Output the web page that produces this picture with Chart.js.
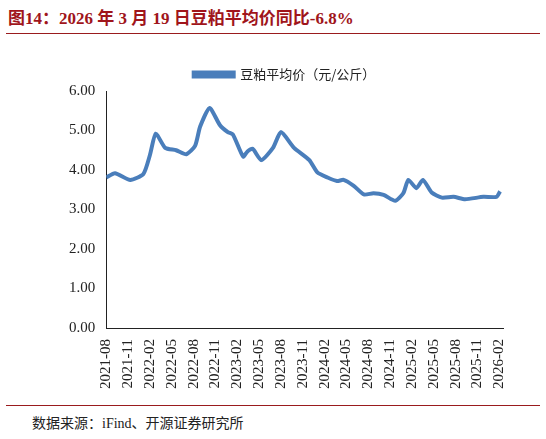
<!DOCTYPE html>
<html><head><meta charset="utf-8">
<script src="https://cdn.jsdelivr.net/npm/chart.js@4/dist/chart.umd.min.js"></script>
<style>
body{margin:0;width:546px;height:439px;background:#fff;position:relative;overflow:hidden;font-family:"Liberation Serif","Noto Sans CJK SC",serif;}
#title{position:absolute;left:8px;top:4px;font-size:17px;font-weight:bold;color:#a0151b;font-family:"Liberation Serif","Noto Sans CJK SC",serif;}
#tl{position:absolute;left:6px;right:6px;top:33px;border-top:1.5px solid #9a1b1e;}
#fl{position:absolute;left:6px;right:6px;top:405px;border-top:1px solid #9a1b1e;}
#src{position:absolute;left:32px;top:412px;font-size:14px;color:#222;}
#wrap{position:absolute;left:0;top:52px;width:546px;height:350px;}
</style></head><body>
<div id="title">图14：2026 年 3 月 19 日豆粕平均价同比-6.8%</div>
<div id="tl"></div>
<div id="wrap"><canvas id="c"></canvas></div>
<div id="fl"></div>
<div id="src">数据来源：iFind、开源证券研究所</div>
<script>
// months since 2021-08
const meses = [0,1.2,3.3,5.1,6.0,6.8,8.1,9.6,11,12.2,12.9,14.2,15.6,16.7,17.4,18.8,19.4,20.1,21.3,22.9,24.0,25.8,27.9,29.0,30.4,31.7,32.6,34.0,35.4,36.7,38.1,39.7,40.8,41.5,42.6,43.5,44.7,46.1,47.7,49.3,51.8,53.6,54.1];
const precios = [3.81,3.92,3.75,3.90,4.38,4.92,4.56,4.50,4.40,4.61,5.10,5.57,5.14,4.96,4.90,4.34,4.47,4.54,4.25,4.56,4.96,4.56,4.25,3.94,3.81,3.72,3.75,3.60,3.38,3.41,3.37,3.22,3.41,3.75,3.54,3.75,3.43,3.30,3.32,3.26,3.32,3.32,3.46];
const etiquetas = ["2021-08","2021-11","2022-02","2022-05","2022-08","2022-11","2023-02","2023-05","2023-08","2023-11","2024-02","2024-05","2024-08","2024-11","2025-02","2025-05","2025-08","2025-11","2026-02"];

new Chart(document.getElementById("c"), {
    type: 'line',
    data: {
        datasets: [{
            label: '豆粕平均价（元/公斤）',
            data: meses.map((m, i) => ({x: m, y: precios[i]})),
            borderColor: '#4a7ebb',
            backgroundColor: '#4a7ebb',
            borderWidth: 4,
            pointRadius: 0,
            tension: 0.2
        }]
    },
    options: {
        responsive: true,
        maintainAspectRatio: false,
        animation: false,
        layout: { padding: { left: 66, right: 43, top: 6, bottom: 10 } },
        plugins: {
            legend: {
                labels: {
                    boxWidth: 40, boxHeight: 4, color: '#222',
                    font: { size: 13, family: '"Noto Sans CJK SC"' }
                }
            },
            tooltip: { enabled: false }
        },
        scales: {
            x: {
                type: 'linear', min: 0, max: 54.5,
                afterBuildTicks: ax => { ax.ticks = etiquetas.map((e, i) => ({value: i * 3})); },
                ticks: {
                    callback: (v) => etiquetas[Math.round(v / 3)],
                    maxRotation: 90, minRotation: 90, autoSkip: false,
                    color: '#222', font: { size: 15, family: '"Liberation Serif"' }
                },
                grid: { display: false },
                border: { color: '#222' }
            },
            y: {
                min: 0, max: 6,
                ticks: {
                    stepSize: 1, callback: v => v.toFixed(2),
                    color: '#222', font: { size: 15, family: '"Liberation Serif"' }
                },
                grid: { display: false, drawTicks: true },
                border: { color: '#222' }
            }
        }
    }
});
</script>
</body></html>
